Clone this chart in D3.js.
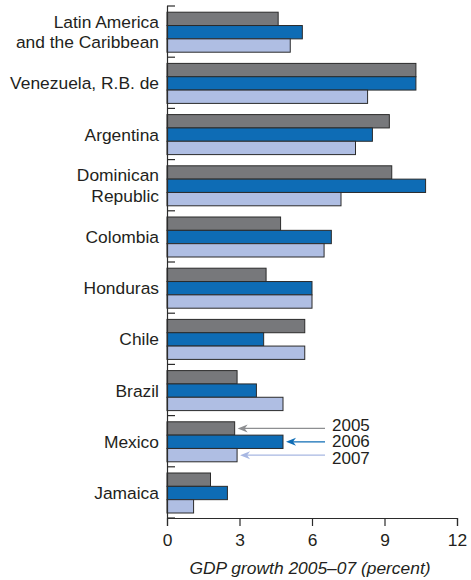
<!DOCTYPE html>
<html>
<head>
<meta charset="utf-8">
<script src="https://cdn.jsdelivr.net/npm/d3@7"></script>
<style>
  body { margin: 0; background: #fff; }
</style>
</head>
<body>
<div id="chart"></div>
<script>
/* global d3*/

//---------------------Data

const countries = [
  "Latin America\nand the Caribbean",
  "Venezuela, R.B. de",
  "Argentina",
  "Dominican\nRepublic",
  "Colombia",
  "Honduras",
  "Chile",
  "Brazil",
  "Mexico",
  "Jamaica"
]

const years = ["2005", "2006", "2007"]

const growth2005 = [4.6, 10.3, 9.2, 9.3, 4.7, 4.1, 5.7, 2.9, 2.8, 1.8]
const growth2006 = [5.6, 10.3, 8.5, 10.7, 6.8, 6.0, 4.0, 3.7, 4.8, 2.5]
const growth2007 = [5.1, 8.3, 7.8, 7.2, 6.5, 6.0, 5.7, 4.8, 2.9, 1.1]

const xTicks = [0, 3, 6, 9, 12]

const yearColors = ["#77787b", "#0e6cb5", "#afbee3"]
const arrowColors = ["#8d8e91", "#0e6cb5", "#a7b7e2"]

// the legend arrows point at the Mexico bars
const legendCountry = "Mexico"

//build one row per bar
const series = [growth2005, growth2006, growth2007]
const dataset = []
countries.forEach((c, i) => {
  years.forEach((y, j) => {
    dataset.push({ country: c, year: y, value: series[j][i] })
  })
})

//----------------------Accessors

const xAccessor = d => d.value
const yAccessor = d => d.country

//-----------------------Dimensions

let dimensions = {
  width: 471,
  height: 580,
  leftMargin: 167,
  rightMargin: 14,
  topMargin: 6,
  bottomMargin: 62
}

dimensions.ctrWidth = dimensions.width - dimensions.leftMargin - dimensions.rightMargin
dimensions.ctrHeight = dimensions.height - dimensions.topMargin - dimensions.bottomMargin

const svg = d3.select("#chart")
  .append("svg")
  .attr("width", dimensions.width)
  .attr("height", dimensions.height)

const ctr = svg.append("g")
  .attr("transform", `translate(${dimensions.leftMargin},${dimensions.topMargin})`)

//------------------------Scales

const xScale = d3.scaleLinear()
  .domain([0, 12])
  .range([0, dimensions.ctrWidth])

const yScale = d3.scaleBand()
  .domain(countries)
  .range([0, dimensions.ctrHeight])
  .padding(0)

// three bars stacked inside each band, small gap at top and bottom
const innerScale = d3.scaleBand()
  .domain(years)
  .range([6.2, yScale.bandwidth() - 5])
  .padding(0)

const colorScale = d3.scaleOrdinal()
  .domain(years)
  .range(yearColors)

const textColor = "#231f20"
const font = "'Liberation Sans', Arial, Helvetica, sans-serif"
const fontSize = "17.4px"

//-----------------Bars

ctr.append("g")
  .selectAll("rect")
  .data(dataset)
  .join("rect")
  .attr("x", xScale(0))
  .attr("y", d => yScale(yAccessor(d)) + innerScale(d.year))
  .attr("width", d => xScale(xAccessor(d)) - xScale(0))
  .attr("height", innerScale.bandwidth())
  .attr("fill", d => colorScale(d.year))
  .attr("stroke", "#2b2b2b")
  .attr("stroke-width", 1)

//----------------------Axes

// left axis: line with small inward ticks at band edges
const yEdges = countries.map(c => yScale(c)).concat([dimensions.ctrHeight])

ctr.append("line")
  .attr("x1", 0.5).attr("x2", 0.5)
  .attr("y1", 0).attr("y2", dimensions.ctrHeight)
  .attr("stroke", "#2b2b2b")
  .attr("stroke-width", 1.2)

ctr.append("g")
  .selectAll("line")
  .data(yEdges)
  .join("line")
  .attr("x1", 0)
  .attr("x2", 8)
  .attr("y1", d => d)
  .attr("y2", d => d)
  .attr("stroke", "#2b2b2b")
  .attr("stroke-width", 1.2)

// country labels, some on two lines
const labels = ctr.append("g")
  .selectAll("text")
  .data(countries)
  .join("text")
  .attr("x", -8)
  .attr("text-anchor", "end")
  .style("font-family", font)
  .style("font-size", fontSize)
  .style("fill", textColor)

labels.each(function (c) {
  const lines = c.split("\n")
  const mid = yScale(c) + yScale.bandwidth() / 2 + 0.5
  const lh = 20.5
  const first = mid - (lines.length - 1) * lh / 2 + 6
  d3.select(this).selectAll("tspan")
    .data(lines)
    .join("tspan")
    .attr("x", -8)
    .attr("y", (d, i) => first + i * lh)
    .text(d => d)
})

const xAxis = d3.axisBottom(xScale)
  .tickValues(xTicks)
  .tickSize(8)
  .tickPadding(8)

const xAxisG = ctr.append("g")
  .attr("transform", `translate(0,${dimensions.ctrHeight})`)
  .call(xAxis)

xAxisG.select(".domain")
  .attr("stroke", "#2b2b2b")
  .attr("stroke-width", 1.2)
xAxisG.selectAll(".tick line")
  .attr("stroke", "#2b2b2b")
  .attr("stroke-width", 1.2)
xAxisG.selectAll(".tick text")
  .style("font-family", font)
  .style("font-size", fontSize)
  .style("fill", textColor)

ctr.append("text")
  .attr("x", xScale(6) - 2)
  .attr("y", dimensions.ctrHeight + 56)
  .attr("text-anchor", "middle")
  .style("font-family", font)
  .style("font-size", fontSize)
  .style("font-style", "italic")
  .style("fill", textColor)
  .text("GDP growth 2005\u201307 (percent)")

//------------------Legend arrows pointing at the Mexico bars

const ci = countries.indexOf(legendCountry)
const arrowEnd = 158
const legend = ctr.append("g")

years.forEach((y, j) => {
  const yc = yScale(legendCountry) + innerScale(y) + innerScale.bandwidth() / 2
  const tip = xScale(series[j][ci]) + 3

  legend.append("line")
    .attr("x1", tip + 6)
    .attr("x2", arrowEnd)
    .attr("y1", yc)
    .attr("y2", yc)
    .attr("stroke", arrowColors[j])
    .attr("stroke-width", 1.2)

  legend.append("path")
    .attr("d", `M${tip},${yc} L${tip + 10},${yc - 4} L${tip + 7},${yc} L${tip + 10},${yc + 4} Z`)
    .attr("fill", arrowColors[j])

  legend.append("text")
    .attr("x", arrowEnd + 7)
    .attr("y", yScale(legendCountry) + innerScale("2006") + innerScale.bandwidth() / 2 + 5.5 + (j - 1) * 16.4)
    .style("font-family", font)
    .style("font-size", "17px")
    .style("fill", textColor)
    .text(y)
})
</script>
</body>
</html>
